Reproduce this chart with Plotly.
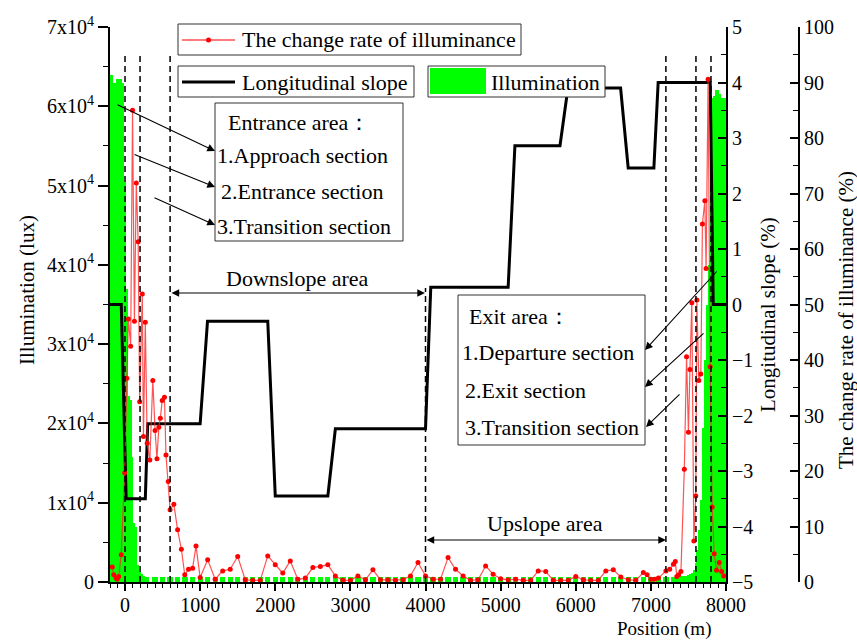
import plotly.graph_objects as go

# ---------------- data ----------------
# change rate of illuminance (%), third axis
rate_pos = [-170, -150, -120, -105, -85, -50, -5, 25, 45, 75, 100, 125, 150, 175, 195,
            230, 245, 270, 295, 330, 370, 400, 425, 450, 470, 495, 525, 545, 575, 600,
            650, 700, 750, 795, 845, 900, 945, 1000,
            1100, 1200, 1300, 1400, 1500, 1600, 1700, 1800, 1900, 2000, 2100, 2200, 2300,
            2400, 2500, 2600, 2700, 2800, 2900, 3000, 3100, 3200, 3300, 3400, 3500, 3600,
            3700, 3800, 3900, 4000, 4100, 4200, 4300, 4400, 4500, 4600, 4700, 4800, 4900,
            5000, 5100, 5200, 5300, 5400, 5500, 5600, 5700, 5800, 5900, 6000, 6100, 6200,
            6300, 6400, 6500, 6600, 6700, 6800, 6900,
            6950, 7000, 7050, 7100, 7200, 7250, 7300, 7325, 7345, 7370, 7400, 7445, 7475,
            7500, 7520, 7545, 7572, 7598, 7612, 7638, 7665, 7686, 7718, 7735, 7762, 7789,
            7816, 7843, 7874, 7910, 7941, 7970]
rate_val = [2.7, 1.3, 0.7, 0.5, 1.0, 4.9, 19.7, 36.7, 47.4, 42.5, 85.0, 47.0, 71.9, 61.3, 32.5,
            51.9, 26.2, 46.8, 25.0, 22.0, 36.3, 27.3, 22.2, 27.9, 29.5, 32.7, 33.3, 22.9, 18.1, 13.0,
            14.0, 9.4, 5.9, 1.3, 2.3, 2.5, 6.5, 0.8,
            4.0, 0.5, 2.0, 2.3, 4.6, 0.4, 0.3, 0.3, 4.7, 3.1, 1.6, 3.8, 0.5,
            0.7, 2.6, 2.8, 3.1, 1.1, 0.3, 0.3, 1.1, 0.4, 2.2, 0.4, 0.4, 0.3,
            0.4, 1.1, 3.5, 1.1, 0.5, 0.5, 4.4, 2.3, 1.1, 0.3, 0.4, 2.9, 1.4,
            0.6, 0.4, 0.5, 0.3, 0.3, 2.0, 1.9, 0.3, 0.3, 0.3, 1.0, 0.4, 0.3,
            0.3, 2.0, 2.2, 0.9, 0.4, 0.3, 1.7,
            1.3, 0.5, 0.5, 0.7, 2.0, 2.3, 3.2, 3.7, 1.0, 1.3, 1.9, 20.3, 40.6,
            27.0, 38.3, 50.3, 7.4, 15.5, 50.8, 36.3, 37.5, 64.5, 68.7, 56.5, 90.6, 38.8,
            13.5, 5.1, 2.1, 3.5, 1.9, 1.1]

# longitudinal slope (%), right axis
slope_pos = [-200, -50, 15, 270, 302, 1000, 1098, 1900, 2000, 2700, 2800, 4000, 4070,
             5100, 5190, 5790, 5896, 6597, 6698, 7040, 7097, 7790, 7830, 8000]
slope_val = [0, 0, -3.5, -3.5, -2.15, -2.15, -0.3, -0.3, -3.45, -3.45, -2.24, -2.24, 0.31,
             0.31, 2.86, 2.86, 3.9, 3.9, 2.46, 2.46, 4.0, 4.0, 0, 0]

# illumination (lux), left axis
illum_pos_entrance = [-200, -175, -150, -125, -100, -75, -50, -25, 0, 25, 50, 75, 100,
                      125, 150, 175, 200, 225, 250, 275, 300]
illum_val_entrance = [64000, 64000, 63000, 63000, 63500, 63500, 63500, 63000, 50500, 37000,
                      23500, 23000, 15800, 7400, 7000, 2200, 1200, 1000, 700, 650, 600]
illum_pos_middle = [400, 500, 600, 700, 800, 900, 1000, 1100, 1200, 1300, 1400, 1500, 1600,
                    1700, 1800, 1900, 2000, 2100, 2200, 2300, 2400, 2500, 2600, 2700, 2800,
                    2900, 3000, 3100, 3200, 3300, 3400, 3500, 3600, 3700, 3800, 3900, 4000,
                    4100, 4200, 4300, 4400, 4500, 4600, 4700, 4800, 4900, 5000, 5100, 5200,
                    5300, 5400, 5500, 5600, 5700, 5800, 5900, 6000, 6100, 6200, 6300, 6400,
                    6500, 6600, 6700, 6800, 6900, 7000, 7100, 7200, 7300]
illum_val_middle = [600, 600, 600, 600, 600, 600, 600, 600, 600, 600, 600, 600, 600,
                    600, 600, 600, 600, 600, 600, 600, 600, 600, 600, 600, 600,
                    600, 600, 600, 600, 600, 600, 600, 600, 600, 600, 600, 600,
                    600, 600, 600, 600, 600, 600, 600, 600, 600, 600, 600, 600,
                    600, 600, 600, 600, 600, 600, 600, 600, 600, 600, 600, 600,
                    600, 600, 600, 600, 600, 600, 600, 600, 600]
illum_pos_exit = [7350, 7375, 7400, 7425, 7450, 7475, 7500, 7525, 7550, 7575, 7600, 7625,
                  7650, 7675, 7700, 7725, 7750, 7775, 7800, 7825, 7850, 7875, 7900, 7925,
                  7950, 7975, 8000]
illum_val_exit = [600, 650, 700, 700, 750, 800, 900, 1000, 1100, 1500, 2400, 4000,
                  6600, 10300, 19400, 28000, 35000, 40000, 59500, 61000, 61300, 62000, 62000,
                  61500, 61000, 61000, 61000]

left_tick_vals = [0, 10000, 20000, 30000, 40000, 50000, 60000, 70000]
left_tick_text = ["0", "1x10<sup>4</sup>", "2x10<sup>4</sup>", "3x10<sup>4</sup>",
                  "4x10<sup>4</sup>", "5x10<sup>4</sup>", "6x10<sup>4</sup>", "7x10<sup>4</sup>"]
x_tick_vals = [0, 1000, 2000, 3000, 4000, 5000, 6000, 7000, 8000]
section_lines = [0, 200, 600, 7200, 7600, 7800]
area_line = 4000

# ---------------- layout helpers (pixels -> paper) ----------------
PL, PR3, PT, PB = 110, 799, 27, 582
PW, PH = PR3 - PL, PB - PT


def xp(px):
    return (px - PL) / PW


def yp(py):
    return (PB - py) / PH


FONT = "Liberation Serif"
FS = 20
TS = 22

illum_pos = illum_pos_entrance + illum_pos_middle + illum_pos_exit
illum_val = illum_val_entrance + illum_val_middle + illum_val_exit
bar_w = [25 if (p <= 300 or p >= 7350) else 70 for p in illum_pos]

fig = go.Figure()
fig.add_trace(go.Bar(x=illum_pos, y=illum_val, width=bar_w,
                     marker=dict(color="#00FF00", line=dict(width=0)),
                     yaxis="y", showlegend=False, name="Illumination"))
fig.add_trace(go.Scatter(x=slope_pos, y=slope_val, mode="lines",
                         line=dict(color="black", width=3),
                         yaxis="y2", showlegend=False, name="Longitudinal slope"))
fig.add_trace(go.Scatter(x=rate_pos, y=rate_val, mode="lines+markers",
                         line=dict(color="rgba(255,40,40,0.8)", width=1.2),
                         marker=dict(color="#FF0000", size=5),
                         yaxis="y3", showlegend=False, name="The change rate of illuminance"))

shapes = []
annotations = []

# dashed section lines
for xv in section_lines:
    shapes.append(dict(type="line", xref="x", yref="paper", x0=xv, x1=xv,
                       y0=0, y1=yp(52), line=dict(color="black", width=1.5, dash="6px,4px"),
                       layer="above"))
shapes.append(dict(type="line", xref="x", yref="paper", x0=area_line, x1=area_line,
                   y0=0, y1=yp(288), line=dict(color="black", width=1.5, dash="6px,4px"),
                   layer="above"))

# legend boxes
shapes += [
    dict(type="rect", xref="paper", yref="paper", x0=xp(178), x1=xp(521), y0=yp(55), y1=yp(24),
         line=dict(color="#333", width=1), fillcolor="white", layer="above"),
    dict(type="line", xref="paper", yref="paper", x0=xp(182), x1=xp(235), y0=yp(40), y1=yp(40),
         line=dict(color="#FF5050", width=1.5), layer="above"),
    dict(type="circle", xref="paper", yref="paper", x0=xp(206), x1=xp(211), y0=yp(42.5), y1=yp(37.5),
         line=dict(color="red", width=0), fillcolor="red", layer="above"),
    dict(type="rect", xref="paper", yref="paper", x0=xp(178), x1=xp(414), y0=yp(97), y1=yp(66),
         line=dict(color="#333", width=1), fillcolor="white", layer="above"),
    dict(type="line", xref="paper", yref="paper", x0=xp(182), x1=xp(235), y0=yp(82), y1=yp(82),
         line=dict(color="black", width=3), layer="above"),
    dict(type="rect", xref="paper", yref="paper", x0=xp(428), x1=xp(605), y0=yp(97), y1=yp(66),
         line=dict(color="#333", width=1), fillcolor="white", layer="above"),
    dict(type="rect", xref="paper", yref="paper", x0=xp(430), x1=xp(486), y0=yp(94), y1=yp(68),
         line=dict(width=0), fillcolor="#00FF00", layer="above"),
    # entrance / exit boxes
    dict(type="rect", xref="paper", yref="paper", x0=xp(215), x1=xp(403), y0=yp(241), y1=yp(103),
         line=dict(color="#333", width=1), fillcolor="white", layer="above"),
    dict(type="rect", xref="paper", yref="paper", x0=xp(458), x1=xp(645), y0=yp(445), y1=yp(295),
         line=dict(color="#333", width=1), fillcolor="white", layer="above"),
]


def text(px, py, s, anchor="left", size=TS, angle=0):
    annotations.append(dict(x=xp(px), y=yp(py), xref="paper", yref="paper", text=s,
                            showarrow=False, xanchor=anchor, yanchor="middle",
                            textangle=angle, font=dict(family=FONT, size=size, color="black")))


text(240, 40, "The change rate of illuminance")
text(240, 82, "Longitudinal slope")
text(489, 82, "Illumination")

text(226, 122, "Entrance area：")
text(215, 156, "1.Approach section")
text(219, 191, "2.Entrance section")
text(215, 226, "3.Transition section")

text(467, 316, "Exit area：")
text(460, 352, "1.Departure section")
text(463, 390, "2.Exit section")
text(463, 427, "3.Transition section")

text(297, 278, "Downslope area", anchor="center")
text(545, 523, "Upslope area", anchor="center")

# axis titles
text(664, 629, "Position (m)", anchor="center", size=19)
text(27, 290, "Illumination (lux)", anchor="center", angle=-90, size=21)
text(768, 315, "Longitudinal slope (%)", anchor="center", angle=-90, size=21)
text(846, 320, "The change rate of illuminance (%)", anchor="center", angle=-90, size=21)


def arrow(hx, hy, tx, ty, both=False):
    annotations.append(dict(x=xp(hx), y=yp(hy), xref="paper", yref="paper",
                            ax=tx - hx, ay=ty - hy, axref="pixel", ayref="pixel",
                            text="", showarrow=True, arrowhead=2, arrowsize=1.4,
                            arrowwidth=1.1, arrowcolor="black", standoff=0, startstandoff=0,
                            arrowside="end+start" if both else "end", startarrowhead=2,
                            startarrowsize=1.4))


arrow(215, 151, 116, 104)
arrow(215, 187, 133, 154)
arrow(215, 225, 153, 197)
arrow(645, 350, 718, 270)
arrow(645, 387, 705, 332)
arrow(646, 427, 681, 393)
arrow(425, 293, 170, 293, both=True)
arrow(666, 540, 425, 540, both=True)

fig.update_layout(
    width=857, height=641,
    margin=dict(l=PL, r=857 - PR3, t=PT, b=641 - PB, pad=0, autoexpand=False),
    paper_bgcolor="white", plot_bgcolor="white",
    font=dict(family=FONT, size=FS, color="black"),
    showlegend=False, barmode="overlay", bargap=0,
    xaxis=dict(domain=[0, (726 - PL) / PW], range=[-200, 8000],
               tickmode="array", tickvals=x_tick_vals, tickformat="d",
               ticks="outside", ticklen=7, tickwidth=1.5, tickcolor="black",
               ticklabelstandoff=-3,
               showline=True, linewidth=2, linecolor="black", mirror=False,
               showgrid=False, zeroline=False, tickfont=dict(size=FS),
               minor=dict(tick0=0, dtick=100, ticks="outside", ticklen=4, tickwidth=1.2,
                          tickcolor="black", showgrid=False)),
    yaxis=dict(range=[0, 70000], tickmode="array", tickvals=left_tick_vals, ticktext=left_tick_text,
               ticks="outside", ticklen=10, tickwidth=1.5, tickcolor="black",
               showline=True, linewidth=2, linecolor="black",
               showgrid=False, zeroline=False, tickfont=dict(size=FS),
               minor=dict(tick0=0, dtick=5000, ticks="outside", ticklen=5, tickwidth=1.2,
                          tickcolor="black", showgrid=False)),
    yaxis2=dict(range=[-5, 5], overlaying="y", side="right", anchor="x",
                tick0=-5, dtick=1, ticks="inside", ticklen=8, tickwidth=1.5, tickcolor="black",
                showline=True, linewidth=2, linecolor="black",
                showgrid=False, zeroline=False, tickfont=dict(size=FS),
                minor=dict(tick0=0, dtick=0.5, ticks="inside", ticklen=5, tickwidth=1.2,
                           tickcolor="black", showgrid=False)),
    yaxis3=dict(range=[0, 100], overlaying="y", side="right", anchor="free", position=1,
                tick0=0, dtick=10, ticks="inside", ticklen=8, tickwidth=1.5, tickcolor="black",
                showline=True, linewidth=2, linecolor="black",
                showgrid=False, zeroline=False, tickfont=dict(size=FS),
                minor=dict(tick0=0, dtick=5, ticks="inside", ticklen=5, tickwidth=1.2,
                           tickcolor="black", showgrid=False)),
    shapes=shapes, annotations=annotations,
)

fig.write_html("out.html", config={"displayModeBar": False},
               post_script="document.body.style.margin='0';document.body.style.padding='0';")
